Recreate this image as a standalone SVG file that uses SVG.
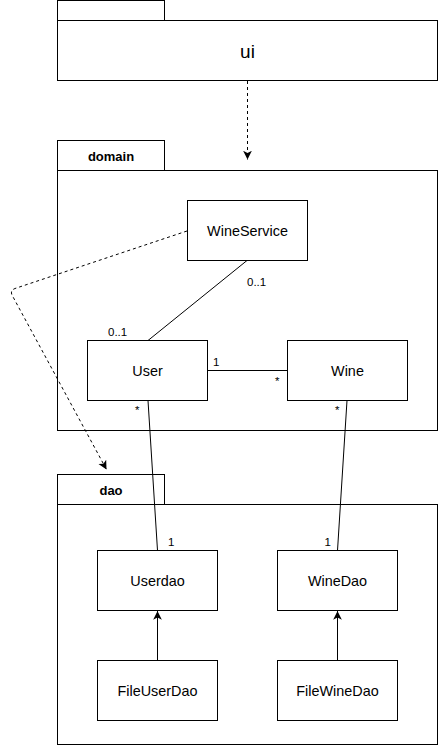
<svg xmlns="http://www.w3.org/2000/svg" width="438" height="745" viewBox="0 0 438 745">
<style>
.box{fill:#fff;stroke:#000;stroke-width:1}
.t{font-family:"Liberation Sans",Arial,Helvetica,sans-serif;font-size:14.4px;fill:#000;text-anchor:middle}
.pk{font-family:"Liberation Sans",Arial,Helvetica,sans-serif;font-size:13px;font-weight:bold;fill:#000;text-anchor:middle}
.lb{font-family:"Liberation Sans",Arial,Helvetica,sans-serif;font-size:11.5px;fill:#000}
.ln{fill:none;stroke:#000;stroke-width:1}
.dash{fill:none;stroke:#000;stroke-width:1;stroke-dasharray:3 3}
</style>
<defs>
<marker id="arr" markerUnits="userSpaceOnUse" markerWidth="10" markerHeight="10" viewBox="0 0 8 8" refX="7" refY="4" orient="auto">
<path d="M0,0.5 L7,4 L0,7.5 L1.8,4 Z" fill="#000" stroke="none"/>
</marker>
</defs>
<rect width="438" height="745" fill="#fff"/>
<g id="pkg-ui">
<rect class="box" x="57.5" y="0.5" width="107" height="20"/>
<rect class="box" x="57.5" y="20.5" width="380" height="60"/>
<text x="247.5" y="58" class="t" style="font-size:19px">ui</text>
</g>
<g id="pkg-domain">
<rect class="box" x="57.5" y="140.5" width="107" height="30"/>
<rect class="box" x="57.5" y="170.5" width="380" height="260"/>
<text x="111" y="160.5" class="pk">domain</text>
</g>
<g id="pkg-dao">
<rect class="box" x="57.5" y="474.5" width="107" height="30"/>
<rect class="box" x="57.5" y="504.5" width="380" height="240"/>
<text x="111" y="495" class="pk">dao</text>
</g>
<g id="WineService">
<rect class="box" x="187.5" y="200.5" width="120" height="60"/>
<text x="247.5" y="235.5" class="t">WineService</text>
</g>
<g id="User">
<rect class="box" x="87.5" y="340.5" width="120" height="60"/>
<text x="147.5" y="375.5" class="t">User</text>
</g>
<g id="Wine">
<rect class="box" x="287.5" y="340.5" width="120" height="60"/>
<text x="347.5" y="375.5" class="t">Wine</text>
</g>
<g id="Userdao">
<rect class="box" x="97.5" y="550.5" width="120" height="60"/>
<text x="157.5" y="585.5" class="t">Userdao</text>
</g>
<g id="WineDao">
<rect class="box" x="277.5" y="550.5" width="120" height="60"/>
<text x="337.5" y="585.5" class="t">WineDao</text>
</g>
<g id="FileUserDao">
<rect class="box" x="97.5" y="660.5" width="120" height="60"/>
<text x="157.5" y="695.5" class="t">FileUserDao</text>
</g>
<g id="FileWineDao">
<rect class="box" x="277.5" y="660.5" width="120" height="60"/>
<text x="337.5" y="695.5" class="t">FileWineDao</text>
</g>
<g id="connectors">
<path class="dash" d="M247.5,81 L247.5,159.5" marker-end="url(#arr)"/>
<path class="dash" d="M187,231 L15,288.5 Q10,290.5 12,295 L106.5,469.5" marker-end="url(#arr)"/>
<path class="ln" d="M247,260.5 L148,340.5"/>
<path class="ln" d="M207.5,370.5 L287.5,370.5"/>
<path class="ln" d="M148,400.5 L157.5,550.5"/>
<path class="ln" d="M347,400.5 L337.5,550.5"/>
<path class="ln" d="M157.5,660.5 L157.5,611" marker-end="url(#arr)"/>
<path class="ln" d="M337.5,660.5 L337.5,611" marker-end="url(#arr)"/>
<text class="lb" x="247" y="286">0..1</text>
<text class="lb" x="108" y="336">0..1</text>
<text class="lb" x="213" y="366">1</text>
<text class="lb" x="275" y="385">*</text>
<text class="lb" x="135" y="414">*</text>
<text class="lb" x="335" y="414">*</text>
<text class="lb" x="168" y="546">1</text>
<text class="lb" x="324.5" y="546">1</text>
</g>
</svg>
